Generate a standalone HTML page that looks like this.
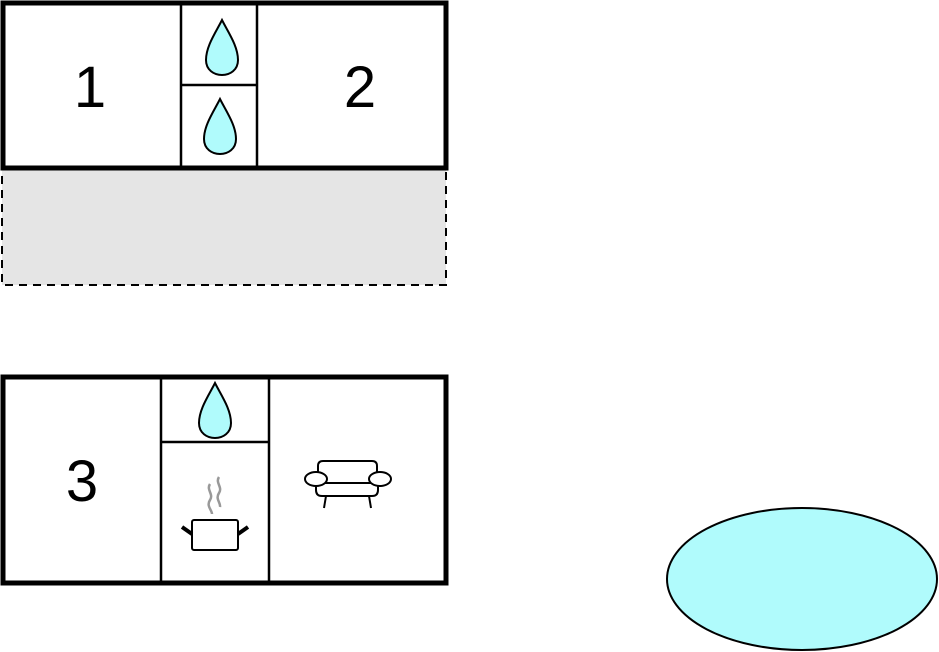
<!DOCTYPE html>
<html><head><meta charset="utf-8"><style>body{margin:0;background:#fff}svg{display:block}</style></head><body>
<svg width="939" height="652" viewBox="0 0 939 652" xmlns="http://www.w3.org/2000/svg">
<defs>
<path id="drop" d="M0,0 C-6,12 -16,26 -16,40 C-16,50 -8,55 0,55 C8,55 16,50 16,40 C16,26 6,12 0,0Z" fill="#b0fbfc" stroke="#000" stroke-width="2"/>
</defs>
<rect x="2" y="168" width="444" height="117" fill="#e5e5e5" stroke="#000" stroke-width="2" stroke-dasharray="8,6"/>
<rect x="3" y="3" width="443" height="165" fill="#fff" stroke="#000" stroke-width="5"/>
<line x1="181" y1="3" x2="181" y2="168" stroke="#000" stroke-width="2.5"/>
<line x1="257" y1="3" x2="257" y2="168" stroke="#000" stroke-width="2.5"/>
<line x1="181" y1="85" x2="257" y2="85" stroke="#000" stroke-width="2.5"/>
<use href="#drop" x="222" y="20"/>
<use href="#drop" x="220" y="99"/>
<text x="90" y="107" font-family="Liberation Sans, sans-serif" font-size="58" text-anchor="middle">1</text>
<text x="360" y="107" font-family="Liberation Sans, sans-serif" font-size="58" text-anchor="middle">2</text>

<rect x="3" y="377" width="443" height="206" fill="#fff" stroke="#000" stroke-width="5"/>
<line x1="161" y1="377" x2="161" y2="583" stroke="#000" stroke-width="2.5"/>
<line x1="269" y1="377" x2="269" y2="583" stroke="#000" stroke-width="2.5"/>
<line x1="161" y1="442" x2="269" y2="442" stroke="#000" stroke-width="2.5"/>
<use href="#drop" x="215" y="383"/>
<text x="82" y="501" font-family="Liberation Sans, sans-serif" font-size="58" text-anchor="middle">3</text>
<path d="M210,484 c-4,6 4,10 0,16 c-4,6 2,10 2,14 M219,477 c-4,6 4,10 0,16 c-4,6 2,10 1,14" fill="none" stroke="#999" stroke-width="2.5"/>
<rect x="192" y="520" width="46" height="30" rx="2" fill="#fff" stroke="#000" stroke-width="2"/>
<path d="M182,527 L192,534 M248,527 L238,534" stroke="#000" stroke-width="4"/>
<g fill="#fff" stroke="#000" stroke-width="2">
<path d="M318,482 L318,466 Q318,461 323,461 L372,461 Q377,461 377,466 L377,482"/>
<path d="M316,483 L316,490 Q316,496 322,496 L372,496 Q378,496 378,490 L378,483Z"/>
<line x1="326" y1="496" x2="324" y2="508"/><line x1="369" y1="496" x2="371" y2="508"/>
<ellipse cx="316" cy="479" rx="11" ry="7"/>
<ellipse cx="380" cy="479" rx="11" ry="7"/>
</g>
<ellipse cx="802" cy="579" rx="135" ry="71" fill="#b0fbfc" stroke="#000" stroke-width="2"/>
</svg>
</body></html>
